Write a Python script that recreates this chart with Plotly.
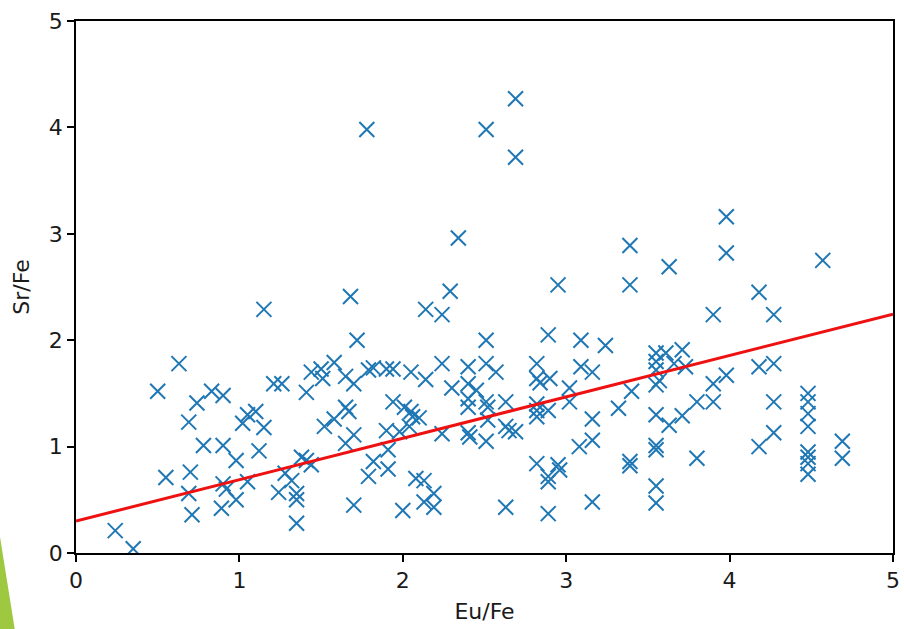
import plotly.graph_objects as go

# Scatter data
eu_fe = [
    0.24, 0.35, 0.50, 0.55, 0.63, 0.69, 0.70, 0.69, 0.71, 0.74, 0.78, 0.83, 0.90, 0.90, 0.90, 0.92, 0.89,
    0.98, 0.98, 1.02, 1.05, 1.05, 1.10, 1.12, 1.15, 1.15, 1.21, 1.26, 1.24, 1.28, 1.32, 1.35, 1.35, 1.35,
    1.38, 1.41, 1.44, 1.41, 1.44, 1.50, 1.51, 1.52, 1.58, 1.58, 1.65, 1.70, 1.65, 1.67, 1.65, 1.70, 1.70,
    1.68, 1.72, 1.78, 1.79, 1.82, 1.79, 1.82, 1.90, 1.94, 1.91, 1.91, 1.90, 1.94, 1.98, 2.01, 2.05, 2.06,
    2.10, 2.04, 2.05, 2.00, 2.08, 2.13, 2.19, 2.13, 2.19, 2.14, 2.14, 2.24, 2.24, 2.24, 2.29, 2.30, 2.34,
    2.40, 2.40, 2.45, 2.40, 2.40, 2.40, 2.41, 2.51, 2.51, 2.51, 2.57, 2.51, 2.52, 2.52, 2.51, 2.63, 2.63,
    2.65, 2.69, 2.63, 2.69, 2.69, 2.82, 2.82, 2.84, 2.90, 2.82, 2.82, 2.89, 2.82, 2.82, 2.89, 2.89, 2.95,
    2.96, 2.89, 2.89, 2.95, 3.02, 3.02, 3.09, 3.09, 3.16, 3.24, 3.16, 3.08, 3.16, 3.16, 3.32, 3.40, 3.39,
    3.39, 3.39, 3.39, 3.55, 3.61, 3.71, 3.55, 3.66, 3.73, 3.55, 3.57, 3.55, 3.55, 3.71, 3.63, 3.55, 3.55,
    3.55, 3.55, 3.63, 3.80, 3.90, 3.80, 3.90, 3.90, 3.98, 3.98, 3.98, 4.18, 4.18, 4.18, 4.27, 4.27, 4.27,
    4.27, 4.48, 4.48, 4.48, 4.48, 4.48, 4.48, 4.48, 4.48, 4.57, 4.69, 4.69,
]
sr_fe = [
    0.21, 0.04, 1.52, 0.71, 1.78, 1.23, 0.76, 0.56, 0.36, 1.41, 1.01, 1.52, 1.48, 1.01, 0.65, 0.60, 0.42,
    0.87, 0.50, 1.22, 1.30, 0.67, 1.33, 0.96, 1.18, 2.29, 1.59, 1.59, 0.57, 0.75, 0.68, 0.56, 0.50, 0.28,
    0.90, 0.87, 0.83, 1.51, 1.70, 1.73, 1.64, 1.19, 1.26, 1.79, 1.66, 1.59, 1.37, 1.33, 1.03, 1.11, 0.45,
    2.41, 2.00, 3.98, 1.72, 1.74, 0.72, 0.86, 1.73, 1.73, 0.79, 0.97, 1.15, 1.42, 1.14, 1.37, 1.33, 1.28,
    1.27, 1.19, 1.70, 0.40, 0.70, 0.68, 0.56, 0.48, 0.43, 1.63, 2.29, 2.24, 1.78, 1.12, 2.46, 1.55, 2.96,
    1.75, 1.59, 1.53, 1.45, 1.37, 1.13, 1.09, 3.98, 2.00, 1.78, 1.70, 1.42, 1.37, 1.25, 1.05, 1.42, 1.19,
    1.15, 1.14, 0.43, 4.27, 3.72, 1.78, 1.64, 1.60, 1.64, 1.40, 1.34, 1.34, 1.28, 0.84, 0.72, 0.67, 0.83,
    0.78, 0.37, 2.05, 2.52, 1.55, 1.42, 2.00, 1.75, 1.70, 1.95, 1.26, 1.00, 1.06, 0.48, 1.36, 1.52, 2.89,
    2.52, 0.86, 0.82, 1.88, 1.88, 1.91, 1.80, 1.78, 1.75, 1.72, 1.62, 1.58, 1.30, 1.29, 1.20, 1.01, 0.97,
    0.63, 0.47, 2.69, 1.42, 1.42, 0.89, 1.59, 2.24, 1.67, 3.16, 2.82, 2.45, 1.75, 1.00, 2.24, 1.78, 1.42,
    1.13, 1.50, 1.42, 1.31, 1.19, 0.95, 0.90, 0.84, 0.74, 2.75, 1.05, 0.89,
]

# Fitted trend line (intercept, slope)
fit_intercept = 0.30
fit_slope = 0.389
fit_x = [0, 5]
fit_y = [fit_intercept + fit_slope * v for v in fit_x]

tick_vals = [0, 1, 2, 3, 4, 5]
tick_text = ["0", "1", "2", "3", "4", "5"]

fig = go.Figure()
fig.add_trace(go.Scatter(
    x=eu_fe, y=sr_fe, mode="markers",
    marker=dict(symbol="x-thin", size=15, line=dict(width=2, color="#1f77b4"), color="#1f77b4"),
    showlegend=False, hoverinfo="x+y",
))
fig.add_trace(go.Scatter(
    x=fit_x, y=fit_y, mode="lines",
    line=dict(color="#ee1111", width=3),
    showlegend=False,
))

axis_common = dict(
    range=[0, 5], tickvals=tick_vals, ticktext=tick_text,
    showgrid=False, zeroline=False,
    showline=True, mirror=True, linecolor="black", linewidth=1.5,
    ticks="outside", ticklen=7, tickwidth=1.5, tickcolor="black",
    tickfont=dict(family="DejaVu Sans", size=22, color="#1a1a1a"),
)

fig.update_layout(
    width=904, height=629,
    margin=dict(l=76, r=11, t=21, b=76, autoexpand=False),
    paper_bgcolor="white", plot_bgcolor="white",
    font=dict(family="DejaVu Sans", size=22, color="#1a1a1a"),
    xaxis=dict(axis_common, title=dict(text="Eu/Fe", standoff=11, font=dict(size=22))),
    yaxis=dict(axis_common, title=dict(text="Sr/Fe", standoff=13, font=dict(size=22))),
    shapes=[dict(
        type="path", xref="paper", yref="paper",
        path="M -0.093 0.030 L -0.075 -0.143 L -0.093 -0.143 Z",
        fillcolor="#9DC83F", line=dict(width=0), layer="above",
    )],
)

fig.write_html("out.html", config={"displayModeBar": False},
               post_script="document.body.style.margin='0';")
